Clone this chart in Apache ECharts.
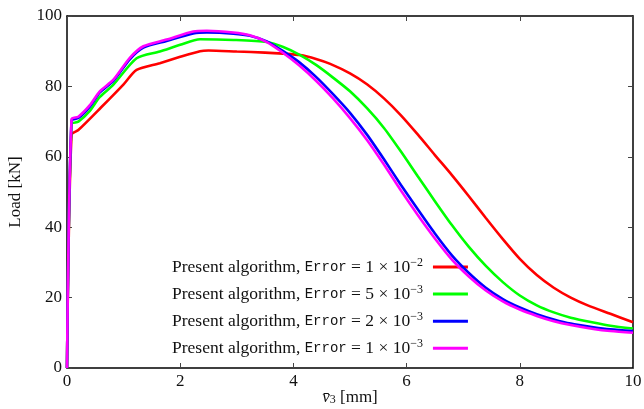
<!DOCTYPE html>
<html>
<head>
<meta charset="utf-8">
<script src="https://cdn.jsdelivr.net/npm/echarts@6/dist/echarts.min.js"></script>
<style>html,body{margin:0;padding:0;background:#fff}#c{width:644px;height:409px}</style>
</head>
<body>
<div id="c"></div>
<script>
// ---- data ----
const xTicks = [0, 2, 4, 6, 8, 10];
const yTicks = [0, 20, 40, 60, 80, 100];
const seriesNames = ['err1e-2', 'err5e-3', 'err2e-3', 'err1e-3'];
const errMantissa = ['1', '5', '2', '1'];
const errExponent = ['\u22122', '\u22123', '\u22123', '\u22123'];
const colors = ['#ff0000', '#00ff00', '#0000ff', '#ff00ff'];

const red = [[0,0],[0.08,66.3],[0.2,67.6],[0.6,74.0],[1.0,80.6],[1.23,84.7],[1.64,86.6],[2.0,88.4],[2.35,90.0],[2.5,90.2],[3.0,89.9],[3.5,89.6],[3.82,89.3],[4.12,88.9],[4.4,87.8],[4.65,86.4],[5.0,83.7],[5.3,80.6],[5.6,76.6],[5.9,71.8],[6.2,66.3],[6.5,60.5],[6.8,54.8],[7.1,48.8],[7.4,42.6],[7.7,36.6],[8.0,31.0],[8.3,26.4],[8.6,22.8],[8.9,20.0],[9.2,17.8],[9.6,15.4],[10,13.0]];
const green = [[0,0],[0.08,69.3],[0.2,70.0],[0.4,73.0],[0.58,77.0],[0.82,80.5],[1.23,88.0],[1.64,89.9],[2.0,91.8],[2.35,93.4],[2.94,93.2],[3.53,92.6],[3.82,91.2],[4.12,88.9],[4.4,86.1],[4.7,82.5],[5.0,78.6],[5.3,73.8],[5.6,68.2],[5.9,61.5],[6.2,54.4],[6.5,47.4],[6.8,40.6],[7.1,34.4],[7.4,29.0],[7.7,24.4],[8.0,20.6],[8.3,17.8],[8.6,15.8],[8.9,14.3],[9.3,12.9],[9.6,12.0],[10,11.2]];
const blue = [[0,0],[0.08,70.3],[0.2,71.0],[0.4,74.2],[0.58,78.3],[0.82,81.6],[1.11,87.7],[1.35,91.0],[1.76,92.9],[2.23,95.0],[2.47,95.3],[2.94,95.0],[3.23,94.4],[3.53,92.8],[3.82,90.0],[4.1,86.9],[4.4,82.7],[4.7,77.8],[5.0,72.5],[5.3,66.3],[5.6,59.3],[5.9,52.0],[6.2,45.0],[6.5,38.2],[6.8,32.0],[7.1,27.0],[7.4,22.8],[7.7,19.6],[8.0,17.2],[8.3,15.3],[8.6,13.8],[8.9,12.6],[9.3,11.6],[9.6,11.0],[10,10.5]];
const magenta = [[0,0],[0.08,70.7],[0.2,71.4],[0.4,74.6],[0.58,78.6],[0.82,81.9],[1.11,88.1],[1.35,91.4],[1.76,93.3],[2.23,95.6],[2.47,95.8],[2.94,95.3],[3.23,94.5],[3.53,92.6],[3.82,89.5],[4.1,86.0],[4.4,81.6],[4.7,76.6],[5.0,71.0],[5.3,64.8],[5.6,57.8],[5.9,50.4],[6.2,43.4],[6.5,36.8],[6.8,30.8],[7.1,26.0],[7.4,22.0],[7.7,18.9],[8.0,16.6],[8.3,14.8],[8.6,13.3],[8.9,12.2],[9.3,11.1],[9.6,10.5],[10,10.0]];
const seriesData = [red, green, blue, magenta];

const SERIF = 'Liberation Serif';
const MONO = 'Liberation Mono';

const chart = echarts.init(document.getElementById('c'), null, {renderer: 'canvas'});

const tickStyle = {show: true, inside: true, length: 5, lineStyle: {color: '#444', width: 1}};
const lineStyleAxis = {show: true, onZero: false, lineStyle: {color: '#000', width: 1.5}};

const option = {
  animation: false,
  backgroundColor: '#fff',
  grid: {left: 67, right: 11, top: 16, bottom: 41, containLabel: false, outerBoundsMode: 'none'},
  xAxis: [
    {type: 'value', min: 0, max: 10, interval: 2, position: 'bottom',
     axisLine: lineStyleAxis, axisTick: tickStyle, splitLine: {show: false},
     axisLabel: {color: '#111', fontFamily: SERIF, fontSize: 17, margin: 5,
                 formatter: v => xTicks.includes(v) ? String(v) : ''},
     name: '{i|v\u0304}{sub|3}{n| [mm]}', nameLocation: 'middle', nameGap: 21, nameMoveOverlap: false,
     nameTextStyle: {rich: {
       i: {fontFamily: SERIF, fontStyle: 'italic', fontSize: 17, color: '#111'},
       sub: {fontFamily: SERIF, fontSize: 12, color: '#111', verticalAlign: 'bottom', lineHeight: 12},
       n: {fontFamily: SERIF, fontSize: 17, color: '#111'}
     }}},
    {type: 'value', min: 0, max: 10, interval: 2, position: 'top',
     axisLine: lineStyleAxis, axisTick: tickStyle, splitLine: {show: false},
     axisLabel: {show: false}}
  ],
  yAxis: [
    {type: 'value', min: 0, max: 100, interval: 20, position: 'left',
     axisLine: lineStyleAxis, axisTick: tickStyle, splitLine: {show: false},
     axisLabel: {color: '#111', fontFamily: SERIF, fontSize: 17, margin: 5,
                 formatter: v => yTicks.includes(v) ? String(v) : ''},
     name: 'Load [kN]', nameLocation: 'middle', nameGap: 43, nameRotate: 90, nameMoveOverlap: false,
     nameTextStyle: {fontFamily: SERIF, fontSize: 17, color: '#111'}},
    {type: 'value', min: 0, max: 100, interval: 20, position: 'right',
     axisLine: lineStyleAxis, axisTick: tickStyle, splitLine: {show: false},
     axisLabel: {show: false}}
  ],
  legend: {
    orient: 'vertical',
    left: 172, top: 257,
    padding: 0,
    itemGap: 8.1,
    itemWidth: 35, itemHeight: 3,
    align: 'right',
    icon: 'rect',
    data: seriesNames,
    formatter: name => {
      const i = seriesNames.indexOf(name);
      return '{a|Present algorithm, }{m|Error}{a| = ' + errMantissa[i] + ' \u00d7 10}{s|' + errExponent[i] + '}';
    },
    textStyle: {
      padding: [0, 5, 0, 0],
      rich: {
        a: {fontFamily: SERIF, fontSize: 17.5, color: '#111', lineHeight: 20},
        m: {fontFamily: MONO, fontSize: 14, color: '#111', lineHeight: 20},
        s: {fontFamily: SERIF, fontSize: 12, color: '#111', lineHeight: 12, verticalAlign: 'top'}
      }
    }
  },
  series: seriesNames.map((n, i) => ({
    name: n, type: 'line', data: seriesData[i], xAxisIndex: 0, yAxisIndex: 0,
    showSymbol: false, symbol: 'none', smooth: 0.25,
    lineStyle: {color: colors[i], width: 2.6}, itemStyle: {color: colors[i]},
    z: 2 + i
  }))
};
chart.setOption(option);
</script>
</body>
</html>
